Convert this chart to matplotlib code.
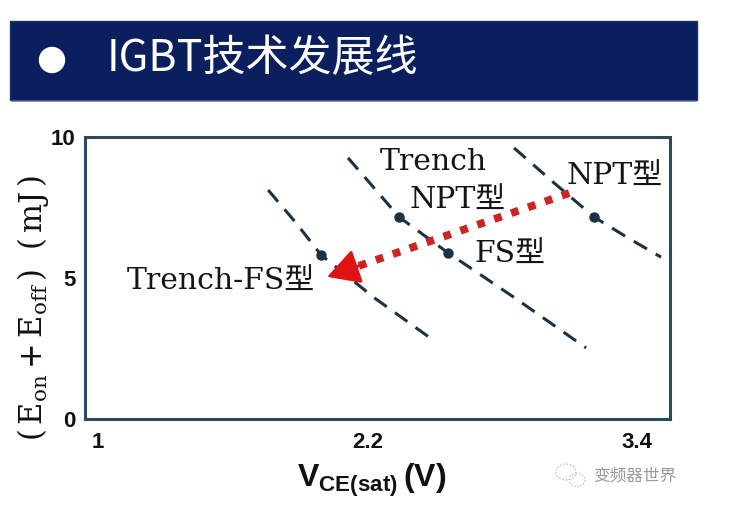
import matplotlib
matplotlib.use('Agg')
import matplotlib.pyplot as plt
from matplotlib.patches import Rectangle, Ellipse
from matplotlib.ticker import FixedLocator

plt.rcParams['font.family'] = ['DejaVu Sans', 'Noto Sans CJK SC']
plt.rcParams['mathtext.fontset'] = 'custom'
plt.rcParams['mathtext.rm'] = 'Liberation Sans'
plt.rcParams['mathtext.bf'] = 'Liberation Sans:bold'

# ---------------- data ----------------
title = "IGBT技术发展线"
x_ticks = [1, 2.2, 3.4]
y_ticks = [0, 5, 10]
x_label = r"$\mathbf{V_{CE(sat)}\,(V)}$"
y_label = r"$\mathrm{(\,E_{on}+E_{off}\,)\ \ (\,mJ\,)}$"

trench_fs_v = [1.759, 1.879, 1.994, 2.232, 2.492]
trench_fs_e = [8.12, 6.99, 5.82, 4.29, 2.80]
trench_v = [2.114, 2.230, 2.341, 2.559, 2.856, 3.172]
trench_e = [9.26, 8.19, 7.16, 5.89, 4.29, 2.52]
npt_v = [2.852, 3.030, 3.208, 3.359, 3.505]
npt_e = [9.61, 8.37, 7.16, 6.42, 5.74]

point_v = [1.994, 2.341, 2.559, 3.208]
point_e = [5.82, 7.16, 5.89, 7.16]

arrow_from = (3.097, 8.01)
arrow_to = (2.021, 5.04)

labels = ["Trench", "NPT型", "FS型", "NPT型", "Trench-FS型"]
label_v = [2.493, 2.603, 2.834, 3.297, 1.550]
label_e = [9.11, 7.73, 5.82, 8.58, 4.86]

watermark = "变频器世界"

# ---------------- styles ----------------
W, H = 732, 520
navy = '#0b1f5e'
curve_c = '#1c3242'
spine_c = '#2b4a5a'
red_dot = '#cc2323'
red_head = '#e01212'
serif = ['DejaVu Serif', 'Noto Sans CJK SC']

fig = plt.figure(figsize=(W / 100, H / 100), dpi=100)
fig.patch.set_facecolor('white')

# banner
fig.add_artist(Rectangle((10 / W, 1 - 100 / H), 687 / W, 79 / H,
                         transform=fig.transFigure, facecolor=navy,
                         edgecolor='#1a2f6a', lw=1))
fig.add_artist(Rectangle((11 / W, 1 - 102 / H), 686 / W, 2 / H,
                         transform=fig.transFigure, facecolor='#5a6b8c',
                         edgecolor='none', alpha=0.6))
fig.add_artist(Ellipse((52 / W, 1 - 60 / H), 25 / W, 25 / H,
                       transform=fig.transFigure, color='white'))
fig.text(107 / W, 1 - 59 / H, title, color='white', fontsize=31,
         ha='left', va='center', family=['Noto Sans CJK SC'])

ax = fig.add_axes([85 / W, 1 - 419 / H, 585 / W, 282 / H])
ax.set_xlim(0.945, 3.545)
ax.set_ylim(0, 10)

dash = (0, (5, 3.3))
for v, e in [(trench_fs_v, trench_fs_e), (trench_v, trench_e), (npt_v, npt_e)]:
    ax.plot(v, e, color=curve_c, lw=2.2, linestyle=dash)
ax.plot(point_v, point_e, 'o', color=curve_c, markersize=6.5, zorder=3)

# red dotted arrow
x0, y0 = arrow_from
x1, y1 = arrow_to
ax.plot([x0, x0 + 0.9 * (x1 - x0)], [y0, y0 + 0.9 * (y1 - y0)],
        color=red_dot, lw=5.6, linestyle=(0, (1, 1.3)), zorder=4)
ax.annotate('', xy=arrow_to,
            xytext=(x0 + 0.86 * (x1 - x0), y0 + 0.86 * (y1 - y0)),
            arrowprops=dict(arrowstyle='-|>,head_length=1.0,head_width=0.55',
                            color=red_head, lw=2, shrinkA=0, shrinkB=0,
                            mutation_scale=20), zorder=5)

for t, v, e in zip(labels, label_v, label_e):
    ax.text(v, e, t, fontsize=21.5, family=serif, color='#151515',
            ha='center', va='center', zorder=6)

for s in ax.spines.values():
    s.set_color(spine_c)
    s.set_linewidth(2.2)

ax.set_xticks(x_ticks)
ax.set_xticklabels([f"{t:g}" for t in x_ticks])
ax.set_yticks(y_ticks)
ax.set_yticklabels([f"{t:g}" for t in y_ticks])
ax.tick_params(which='major', length=0, labelsize=16)
ax.tick_params(axis='x', which='major', pad=9)
ax.tick_params(axis='y', which='major', pad=7)
for lbl in ax.get_xticklabels() + ax.get_yticklabels():
    lbl.set_fontfamily('Liberation Sans')
    lbl.set_fontweight('bold')
    lbl.set_color('#111111')
ax.xaxis.set_minor_locator(FixedLocator([x_ticks[1]]))
ax.yaxis.set_minor_locator(FixedLocator([y_ticks[1]]))
ax.tick_params(which='minor', direction='in', length=10, width=2, color=spine_c)

ax.set_xlabel(x_label, fontsize=23, color='#111111')
ax.xaxis.set_label_coords((372 - 85) / 585, (419 - 462) / 282)
ax.set_ylabel(y_label, fontsize=22, color='#111111', va='center',
              math_fontfamily='dejavuserif')
ax.yaxis.set_label_coords((33 - 85) / 585, (419 - 308) / 282)

# watermark
fig.add_artist(Ellipse((566 / W, 1 - 472 / H), 20 / W, 16 / H,
                       transform=fig.transFigure, fill=False,
                       edgecolor='#b0b0b0', lw=0.9, linestyle=':'))
fig.add_artist(Ellipse((577 / W, 1 - 480 / H), 16 / W, 13 / H,
                       transform=fig.transFigure, fill=False,
                       edgecolor='#b0b0b0', lw=0.9, linestyle=':'))
fig.text(593 / W, 1 - 476 / H, watermark, color='#9a9a9a', fontsize=12,
         ha='left', va='center', family=['Noto Sans CJK SC'])

fig.savefig('out.png', dpi=100)
